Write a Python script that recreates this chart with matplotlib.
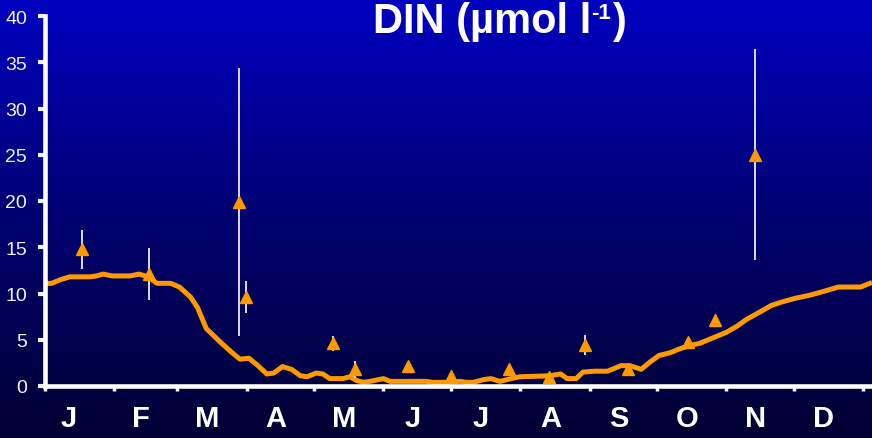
import numpy as np
import matplotlib
matplotlib.use("Agg")
import matplotlib.pyplot as plt
from matplotlib.colors import LinearSegmentedColormap

plt.rcParams['font.family'] = ['Liberation Sans', 'DejaVu Sans']

# seasonal DIN climatology (day of year, umol/l)
curve_day = [0, 3, 7, 11, 20, 23, 26, 30, 38, 42, 46, 50, 56, 60, 65, 68, 72,
             78, 83, 87, 91, 95, 99, 102, 106, 110, 114, 117, 121, 124, 127,
             133, 136, 139, 142, 145, 151, 154, 170, 173, 179, 185, 188, 191,
             196, 199, 203, 208, 212, 225, 230, 233, 237, 240, 245, 251, 257,
             261, 266, 270, 274, 279, 283, 288, 292, 298, 304, 309, 313, 319,
             324, 329, 335, 341, 347, 354, 364, 369]
curve_val = [11.1, 11.1, 11.5, 11.8, 11.8, 11.9, 12.1, 11.9, 11.9, 12.1, 11.8,
             11.1, 11.1, 10.7, 9.6, 8.5, 6.2, 4.8, 3.7, 2.9, 3.0, 2.2, 1.3,
             1.4, 2.1, 1.8, 1.1, 1.0, 1.4, 1.3, 0.8, 0.8, 1.0, 0.6, 0.4, 0.5,
             0.8, 0.5, 0.5, 0.4, 0.4, 0.5, 0.4, 0.4, 0.7, 0.8, 0.5, 0.8, 1.0,
             1.1, 1.3, 0.8, 0.8, 1.5, 1.6, 1.6, 2.2, 2.2, 1.8, 2.6, 3.3, 3.6,
             4.0, 4.4, 4.6, 5.2, 5.8, 6.5, 7.2, 8.0, 8.7, 9.1, 9.5, 9.8, 10.2,
             10.7, 10.7, 11.2]

# observations with standard deviation
obs_day = [16.5, 46.4, 86.6, 89.7, 128.5, 138.3, 162, 181, 207, 225, 241,
           260, 287, 299, 317]
obs_val = [14.8, 12.1, 19.9, 9.6, 4.6, 1.8, 2.2, 1.1, 1.8, 1.0, 4.4, 1.8,
           4.8, 7.1, 25.0]
obs_err = [2.1, 2.8, 14.5, 1.7, 0.8, 0.9, 0, 0, 0, 0, 1.1, 0, 0, 0, 11.4]

months = ['J', 'F', 'M', 'A', 'M', 'J', 'J', 'A', 'S', 'O', 'N', 'D']

fig = plt.figure(figsize=(8.72, 4.39), dpi=100)

# blue background gradient
bg = fig.add_axes([0, 0, 1, 1], zorder=-10)
cmap = LinearSegmentedColormap.from_list('bg', ['#0000C0', '#000070', '#000033'])
bg.imshow(np.linspace(0, 1, 256)[:, None], aspect='auto', cmap=cmap,
          extent=[0, 1, 0, 1])
bg.axis('off')

ax = fig.add_axes([45 / 872, 1 - 387 / 439, 1 - 45 / 872, 370 / 439])
ax.set_facecolor('none')

orange = '#FF9900'
ax.plot(curve_day, curve_val, color=orange, lw=3.6, solid_capstyle='butt',
        zorder=2, clip_on=False)
ax.errorbar(obs_day, obs_val, yerr=obs_err, fmt='none', ecolor='white',
            elinewidth=1.2, capsize=0, zorder=3)
ax.plot(obs_day, obs_val, '^', color=orange, ms=9, mec=orange, zorder=4)

ax.set_xlim(0, 369)
ax.set_ylim(0, 40)
ax.set_yticks(range(0, 41, 5))

month_start = np.cumsum([0, 31, 28, 31, 30, 31, 30, 31, 31, 30, 31, 30, 31])
label_pos = (month_start[:-1] + month_start[1:]) / 2 - 2
label_pos[0] -= 3
ax.set_xticks(month_start)
ax.set_xticklabels([])
ax.set_xticks(label_pos, minor=True)
ax.set_xticklabels(months, minor=True, fontsize=21, fontweight='bold',
                   color='white')

for s in ['top', 'right']:
    ax.spines[s].set_visible(False)
for s in ['left', 'bottom']:
    ax.spines[s].set_color('white')
    ax.spines[s].set_linewidth(3.3)

ax.tick_params(axis='y', colors='#F0F0FF', labelsize=14, length=5, width=3,
               pad=8)
ax.tick_params(axis='x', which='major', colors='white', length=3.5, width=2.5)
ax.tick_params(axis='x', which='minor', length=0, pad=13)

# title with superscript unit
t1 = fig.text(373 / 872, 1 - 33 / 439, 'DIN (µmol l', color='white',
              fontsize=30, fontweight='bold', ha='left', va='baseline')
t2 = ax.annotate('-1', xy=(1, 1), xycoords=t1, xytext=(0, -1),
                 textcoords='offset points', color='white', fontsize=16,
                 fontweight='bold', ha='left', va='top')
ax.annotate(')', xy=(1, 0), xycoords=(t2, t1), xytext=(1, 0),
            textcoords='offset points', color='white', fontsize=30,
            fontweight='bold', ha='left', va='bottom')

fig.savefig('out.png', dpi=100)
plt.close()
